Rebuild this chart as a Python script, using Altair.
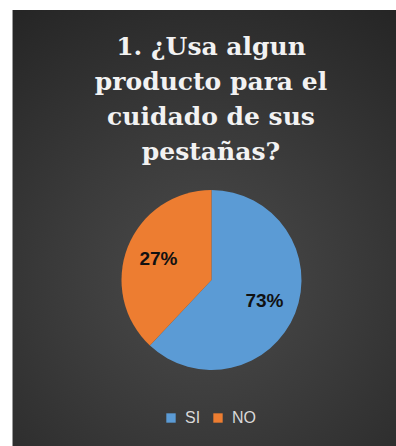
import altair as alt
import pandas as pd

# ---- data ----
categorias = ["SI", "NO"]
valores = [62, 38]            # slice sizes as drawn in the picture
etiquetas = ["73%", "27%"]    # data labels as printed on the slices
orden = [1, 2]
colores = ["#5B9BD5", "#ED7D31"]
titulo = ["1. ¿Usa algun", "producto para el", "cuidado de sus", "pestañas?"]

W, H = 396, 446
CX, CY, R = 211.5, 280, 90

df = pd.DataFrame({"cat": categorias, "val": valores, "lab": etiquetas, "ord": orden})
one = pd.DataFrame({"a": [0]})
tdf = pd.DataFrame({"t": ["\n".join(titulo)]})

bg = alt.Chart(one).mark_rect(
    color=alt.Gradient(
        gradient="radial",
        stops=[alt.GradientStop(color="#4b4b4b", offset=0),
               alt.GradientStop(color="#3a3a3a", offset=0.45),
               alt.GradientStop(color="#242424", offset=1)],
        x1=0.5, y1=0.62, r1=0, x2=0.5, y2=0.62, r2=0.78,
    )
).encode(x=alt.value(13), x2=alt.value(W), y=alt.value(10), y2=alt.value(H))

edge = alt.Chart(one).mark_rule(color="#9a9a9a", strokeWidth=1).encode(
    x=alt.value(12.5), y=alt.value(10), y2=alt.value(H)
)

title = alt.Chart(tdf).mark_text(
    font="DejaVu Serif", fontWeight="bold", fontSize=25, color="#f2f2f2",
    lineBreak="\n", lineHeight=35, align="center", baseline="alphabetic",
).encode(text="t:N", x=alt.value(211), y=alt.value(55))

color_scale = alt.Scale(domain=categorias, range=colores)

pie = alt.Chart(df).mark_arc(radius=R, stroke=None).encode(
    theta=alt.Theta("val:Q", stack=True),
    color=alt.Color(
        "cat:N", scale=color_scale, sort=categorias,
        legend=alt.Legend(
            title=None, orient="none", direction="horizontal",
            legendX=163, legendY=410, symbolType="square", symbolSize=88,
            symbolStrokeWidth=0, labelColor="#d9d9d9", labelFont="Liberation Sans",
            labelFontSize=16, columnPadding=9, labelOffset=6,
        ),
    ),
    order=alt.Order("ord:Q"),
    x=alt.value(CX), y=alt.value(CY),
)

labels = alt.Chart(df).mark_text(
    radius=57, font="Liberation Sans", fontWeight="bold", fontSize=19,
    color="#111111", align="center", baseline="middle",
).encode(
    theta=alt.Theta("val:Q", stack=True),
    text="lab:N",
    order=alt.Order("ord:Q"),
    x=alt.value(CX), y=alt.value(CY),
)

chart = alt.layer(bg, edge, pie, labels, title).properties(
    width=W, height=H, padding=0, autosize=alt.AutoSizeParams(type="none"),
    background="#ffffff",
).configure_view(stroke=None)

chart.save("out.html", embed_options={"renderer": "svg", "actions": False})
